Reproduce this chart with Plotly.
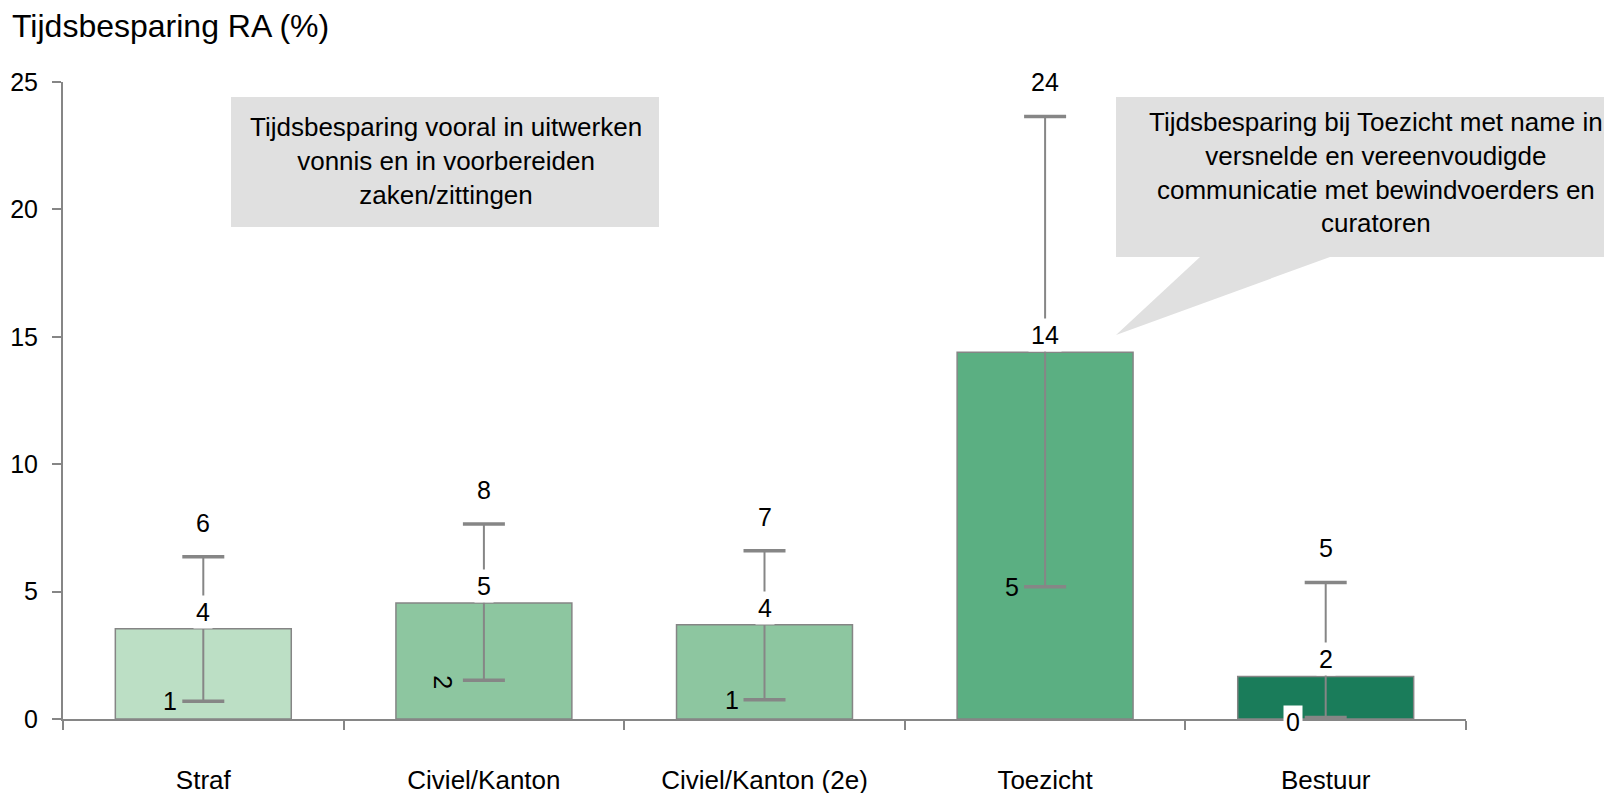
import plotly.graph_objects as go

# ---- data ----
categories = ["Straf", "Civiel/Kanton", "Civiel/Kanton (2e)", "Toezicht", "Bestuur"]
mean_values = [3.54, 4.55, 3.70, 14.39, 1.67]
lower_values = [0.70, 1.52, 0.76, 5.19, 0.06]
upper_values = [6.37, 7.65, 6.60, 23.65, 5.36]
y_ticks = [0, 5, 10, 15, 20, 25]

title_text = "Tijdsbesparing RA (%)"
callout_1 = "Tijdsbesparing vooral in uitwerken<br>vonnis en in voorbereiden<br>zaken/zittingen"
callout_2 = ("Tijdsbesparing bij Toezicht met name in<br>versnelde en vereenvoudigde<br>"
             "communicatie met bewindvoerders en<br>curatoren")

# ---- style ----
bar_colors = ["#BCDFC5", "#8DC6A0", "#8DC6A0", "#5BAF82", "#1A7C5A"]
gray = "#868686"
FONT = "Liberation Sans, Arial, sans-serif"
W, H = 1612, 793
OFF = 8  # page body margin
# plot area in page pixels
PL, PR, PT, PB = 63, 1466, 82, 719


def px(x):
    return (x - PL) / (PR - PL)


def py(y):
    return (PB - y) / (PB - PT)


fig = go.Figure()

fig.add_trace(go.Bar(
    x=categories, y=mean_values,
    marker=dict(color=bar_colors, line=dict(color="#858585", width=1.5)),
    error_y=dict(type="data", symmetric=False,
                 array=[u - m for u, m in zip(upper_values, mean_values)],
                 arrayminus=[m - l for m, l in zip(mean_values, lower_values)],
                 color=gray, thickness=2, width=0),
    showlegend=False, hoverinfo="skip",
))

# thick caps
for vals in (upper_values, lower_values):
    fig.add_trace(go.Scatter(
        x=categories, y=vals, mode="markers", cliponaxis=False,
        marker=dict(symbol="line-ew", size=30, line=dict(color=gray, width=3.5)),
        showlegend=False, hoverinfo="skip",
    ))

annotations = []
lab_font = dict(family=FONT, size=25, color="black")
for i, c in enumerate(categories):
    # upper label
    annotations.append(dict(x=c, y=upper_values[i], xref="x", yref="y",
                            text=str(round(upper_values[i])), showarrow=False,
                            yanchor="middle", yshift=34, font=lab_font))
    # mean label
    annotations.append(dict(x=c, y=mean_values[i], xref="x", yref="y",
                            text=str(round(mean_values[i])), showarrow=False,
                            yanchor="middle", yshift=17, font=lab_font,
                            bgcolor="white", borderpad=2))
    # lower label
    low = dict(x=c, y=lower_values[i], xref="x", yref="y",
               text=str(round(lower_values[i])), showarrow=False,
               yanchor="middle", xshift=-33, font=lab_font)
    if i == 1:
        low.update(textangle=90, xshift=-41, yshift=-2)
    if i == 4:
        low.update(bgcolor="white", borderpad=2, yshift=-5)
    annotations.append(low)

# callout texts
cal_font = dict(family=FONT, size=26, color="black")
annotations.append(dict(x=px(446), y=py(161), xref="paper", yref="paper",
                        text=callout_1, showarrow=False, font=cal_font,
                        xanchor="center", yanchor="middle", align="center"))
annotations.append(dict(x=px(1376), y=py(172), xref="paper", yref="paper",
                        text=callout_2, showarrow=False, font=cal_font,
                        xanchor="center", yanchor="middle", align="center"))

shapes = []
shapes.append(dict(type="rect", xref="paper", yref="paper",
                   x0=px(231), x1=px(659), y0=py(227), y1=py(97),
                   fillcolor="#E0E0E0", line=dict(width=0), layer="below"))
pts = [(1116, 97), (1630, 97), (1630, 257), (1330, 257), (1116, 335), (1200, 257), (1116, 257)]
path = "M " + " L ".join(f"{px(a):.5f},{py(b):.5f}" for a, b in pts) + " Z"
shapes.append(dict(type="path", xref="paper", yref="paper", path=path,
                   fillcolor="#E0E0E0", line=dict(width=0), layer="below"))

fig.update_layout(
    width=W, height=H,
    margin=dict(l=PL - OFF, r=W - (PR - OFF), t=PT - OFF, b=H - (PB - OFF)),
    paper_bgcolor="white", plot_bgcolor="rgba(0,0,0,0)",
    template="none",
    bargap=0.373,
    font=dict(family=FONT, color="black"),
    title=dict(text=title_text, x=(12 - OFF) / W, xref="container", xanchor="left",
               y=1 - (26 - OFF) / H, yref="container", yanchor="middle",
               font=dict(family=FONT, size=32, color="black")),
    annotations=annotations,
    shapes=shapes,
)

fig.update_xaxes(
    range=[-0.5, 4.5], showline=True, linecolor=gray, linewidth=2,
    ticks="outside", tickson="boundaries", ticklen=9, tickwidth=2, tickcolor=gray,
    showgrid=False, zeroline=False, automargin=False,
    tickfont=dict(family=FONT, size=26, color="black"), ticklabelstandoff=37,
)
fig.update_yaxes(
    range=[0, 25], tickvals=y_ticks, showline=True, linecolor=gray, linewidth=2,
    ticks="outside", ticklen=9, tickwidth=2, tickcolor=gray,
    showgrid=False, zeroline=False, automargin=False,
    tickfont=dict(family=FONT, size=25, color="black"), ticklabelstandoff=9,
)

fig.write_html("out.html")
